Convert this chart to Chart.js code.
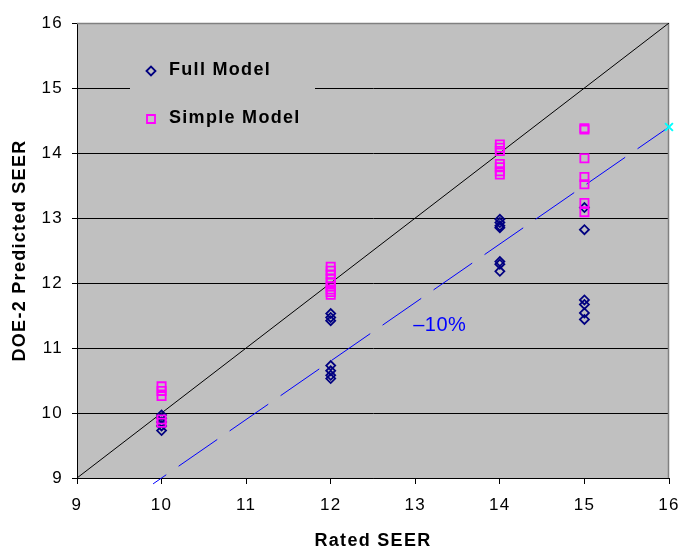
<!DOCTYPE html>
<html lang="en">
<head>
  <meta charset="UTF-8" />
  <meta name="viewport" content="width=device-width, initial-scale=1.0" />
  <title>Rated vs DOE-2 Predicted SEER</title>
  <script src="https://cdn.jsdelivr.net/npm/chart.js"></script>
  <style>
    html, body {
      margin: 0;
      padding: 0;
      background: #fff;
    }
    .container {
      width: 679px;
      height: 546px;
    }
  </style>
</head>
<body>
  <div class="container">
    <canvas id="chart" width="679" height="546"></canvas>
  </div>

  <script>
    // values
    const fullRated     = [10, 10, 10, 10, 10,
                           12, 12, 12, 12, 12, 12, 12,
                           14, 14, 14, 14, 14, 14, 14,
                           15, 15, 15, 15, 15, 15];
    const fullPredicted = [9.97, 9.92, 9.86, 9.80, 9.73,
                           11.53, 11.47, 11.42, 10.73, 10.65, 10.58, 10.53,
                           12.98, 12.93, 12.88, 12.85, 12.33, 12.29, 12.18,
                           13.16, 12.82, 11.74, 11.67, 11.54, 11.44];

    const simpleRated     = [10, 10, 10, 10, 10,
                             12, 12, 12, 12, 12, 12, 12, 12, 12,
                             14, 14, 14, 14, 14, 14, 14,
                             15, 15, 15, 15, 15, 15, 15];
    const simplePredicted = [10.41, 10.34, 10.26, 9.90, 9.85,
                             12.25, 12.19, 12.13, 12.07, 12.01, 11.95, 11.90, 11.86, 11.82,
                             14.13, 14.08, 14.03, 13.83, 13.78, 13.72, 13.67,
                             14.38, 14.36, 13.92, 13.63, 13.52, 13.23, 13.09];

    const oneToOneX = [9, 16];
    const oneToOneY = [9, 16];
    const minusTenX = [9.9, 16];
    const minusTenY = [8.91, 14.4];

    const minusTenLabel = '\u201310%';
    const minusTenLabelAt = [13.29, 11.34];

    const axisMin = 9;
    const axisMax = 16;

    const zip = (xs, ys) => xs.map((x, i) => ({ x, y: ys[i] }));

    Chart.defaults.font.family = "'Liberation Sans', Arial, sans-serif";
    Chart.defaults.color = '#000';

    const plotFrame = {
      id: 'plotFrame',
      beforeDraw(chart) {
        const { ctx, chartArea: a } = chart;
        ctx.save();
        ctx.fillStyle = '#fff';
        ctx.fillRect(0, 0, chart.width, chart.height);
        ctx.fillStyle = '#c0c0c0';
        ctx.fillRect(a.left, a.top, a.right - a.left, a.bottom - a.top);
        ctx.restore();
        ctx.letterSpacing = '1.3px';
      },
      beforeDatasetsDraw(chart) {
        const { ctx, chartArea: a } = chart;
        ctx.save();
        ctx.strokeStyle = '#808080';
        ctx.lineWidth = 1.5;
        ctx.beginPath();
        ctx.moveTo(a.left, a.top + 0.5);
        ctx.lineTo(a.right - 0.5, a.top + 0.5);
        ctx.lineTo(a.right - 0.5, a.bottom);
        ctx.stroke();
        ctx.restore();
      }
    };

    const boxLegend = {
      id: 'boxLegend',
      afterDatasetsDraw(chart) {
        const ctx = chart.ctx;
        const sx = chart.scales.x, sy = chart.scales.y;
        ctx.save();
        ctx.letterSpacing = '1.3px';

        // legend box sits on the plot and hides the gridline behind it
        ctx.fillStyle = '#c0c0c0';
        ctx.fillRect(130, 50, 185, 90);

        const rows = chart.data.datasets.filter(d => d.inLegend)
          .sort((a, b) => a.inLegend - b.inLegend);
        rows.forEach((d, i) => {
          const cy = 71 + i * 48;
          const mx = 151;
          ctx.strokeStyle = d.pointBorderColor;
          ctx.lineWidth = 1.8;
          ctx.beginPath();
          if (d.pointStyle === 'rectRot') {
            const r = 4.5;
            ctx.moveTo(mx - r, cy);
            ctx.lineTo(mx, cy - r);
            ctx.lineTo(mx + r, cy);
            ctx.lineTo(mx, cy + r);
            ctx.closePath();
          } else {
            ctx.rect(mx - 4, cy - 4, 8, 8);
          }
          ctx.stroke();

          ctx.fillStyle = '#000';
          ctx.font = "bold 18px 'Liberation Sans', Arial, sans-serif";
          ctx.textAlign = 'left';
          ctx.textBaseline = 'middle';
          ctx.fillText(d.label, 169, cy - 1);
        });

        // -10% note next to the dashed line
        ctx.fillStyle = '#0000ff';
        ctx.font = "20px 'Liberation Sans', Arial, sans-serif";
        ctx.textAlign = 'center';
        ctx.textBaseline = 'middle';
        ctx.letterSpacing = '0.5px';
        ctx.fillText(minusTenLabel,
          sx.getPixelForValue(minusTenLabelAt[0]),
          sy.getPixelForValue(minusTenLabelAt[1]));
        ctx.restore();
      }
    };

    new Chart(document.getElementById('chart'), {
      type: 'scatter',
      data: {
        datasets: [
          {
            label: 'Simple Model',
            inLegend: 2,
            data: zip(simpleRated, simplePredicted),
            pointStyle: 'rect',
            pointRadius: 5.8,
            pointBorderWidth: 1.8,
            pointBorderColor: '#ff00ff',
            pointBackgroundColor: 'rgba(0,0,0,0)'
          },
          {
            label: 'Full Model',
            inLegend: 1,
            data: zip(fullRated, fullPredicted),
            pointStyle: 'rectRot',
            pointRadius: 4.5,
            pointBorderWidth: 1.8,
            pointBorderColor: '#000080',
            pointBackgroundColor: 'rgba(0,0,0,0)'
          },
          {
            label: '-10%',
            data: zip(minusTenX, minusTenY),
            showLine: true,
            borderColor: '#0000ff',
            borderWidth: 1,
            borderDash: [47, 15],
            borderDashOffset: 31,
            pointRadius: [0, 5.5],
            pointStyle: 'crossRot',
            pointBorderColor: '#00ffff',
            pointBorderWidth: 2,
            clip: false
          },
          {
            label: '1:1',
            data: zip(oneToOneX, oneToOneY),
            showLine: true,
            borderColor: '#000',
            borderWidth: 1,
            pointRadius: 0
          }
        ]
      },
      options: {
        responsive: false,
        animation: false,
        layout: { padding: { top: 23, right: 10, bottom: 0, left: 0 } },
        plugins: {
          legend: { display: false },
          tooltip: { enabled: false }
        },
        scales: {
          x: {
            type: 'linear',
            min: axisMin,
            max: axisMax,
            ticks: { stepSize: 1, font: { size: 17 }, padding: 11, color: '#000' },
            grid: { drawOnChartArea: false, tickLength: 6, tickColor: '#000' },
            border: { color: '#000', width: 1 },
            title: {
              display: true,
              text: 'Rated SEER',
              color: '#000',
              font: { size: 18, weight: 'bold', lineHeight: 0.6 },
              padding: 0
            },
            afterFit(s) {
              s.height = 68;
              s.paddingLeft = 0;
              s.paddingRight = 0;
            }
          },
          y: {
            type: 'linear',
            min: axisMin,
            max: axisMax,
            ticks: { stepSize: 1, font: { size: 17 }, padding: 9, color: '#000' },
            grid: {
              color: c => (c.tick && c.tick.value === axisMax ? '#808080' : '#000'),
              tickLength: 5,
              tickColor: '#000'
            },
            border: { color: '#000', width: 1 },
            title: {
              display: true,
              text: 'DOE-2 Predicted SEER',
              color: '#000',
              font: { size: 18, weight: 'bold', lineHeight: 2.22 },
              padding: 0
            },
            afterFit(s) {
              s.width = 77;
              s.paddingTop = 0;
              s.paddingBottom = 0;
            }
          }
        }
      },
      plugins: [plotFrame, boxLegend]
    });
  </script>
</body>
</html>
